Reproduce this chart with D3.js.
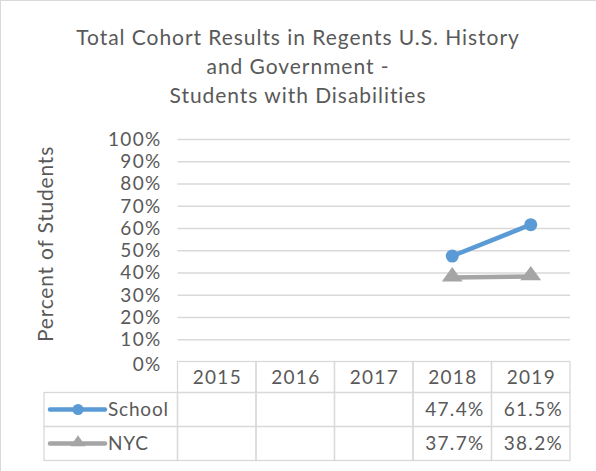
<!DOCTYPE html>
<html>
<head>
<meta charset="utf-8">
<script src="https://cdn.jsdelivr.net/npm/d3@7"></script>
<style>
  body { margin: 0; background: white; }
  text { font-family: "Century Gothic", "Lato", "Open Sans", sans-serif; fill: #595959; }
</style>
</head>
<body>
<div class="container"></div>
<script>
const years = ["2015", "2016", "2017", "2018", "2019"];
const schoolValues = [null, null, null, 47.4, 61.5];
const nycValues = [null, null, null, 37.7, 38.2];
const yTicks = [0, 10, 20, 30, 40, 50, 60, 70, 80, 90, 100];
const titleLines = ["Total Cohort Results in Regents U.S. History", "and Government -", "Students with Disabilities"];

const w = 596;
const h = 471;
const plotLeft = 177.5;
const plotRight = 570;
const plotTop = 139;
const plotBottom = 361.5;
const headerH = 31;
const rowH = 34;
const legendLeft = 44;
const numSize = "19px";
const numSpacing = "1.3px";

const series = [
    { name: "School", values: schoolValues, color: "#5B9BD5", marker: "circle" },
    { name: "NYC", values: nycValues, color: "#A5A5A5", marker: "triangle" }
];

const svg = d3.select(".container")
    .append("svg")
    .attr("width", w)
    .attr("height", h);

// chart border
svg.append("rect")
    .attr("x", 0.5)
    .attr("y", 0.5)
    .attr("width", w + 10)
    .attr("height", h + 10)
    .attr("fill", "none")
    .attr("stroke", "#D9D9D9");

svg.selectAll(".title")
    .data(titleLines)
    .enter()
    .append("text")
    .attr("class", "title")
    .attr("x", 298)
    .attr("y", (d, i) => 45 + i * 29)
    .attr("text-anchor", "middle")
    .style("font-size", "21px")
    .style("letter-spacing", "0.95px")
    .text(d => d);

const xScale = d3.scaleBand()
    .domain(years)
    .range([plotLeft, plotRight]);

const yScale = d3.scaleLinear()
    .domain([0, 100])
    .range([plotBottom, plotTop]);

// gridlines
svg.append("g")
    .attr("class", "grid")
    .attr("transform", "translate(" + plotLeft + ",0)")
    .call(d3.axisLeft(yScale).tickValues(yTicks.filter(d => d > 0)).tickSize(-(plotRight - plotLeft)).tickFormat(""))
    .call(g => g.select(".domain").remove())
    .call(g => g.selectAll("line").attr("stroke", "#D9D9D9").attr("stroke-width", 1.3));

// y labels
svg.append("g")
    .attr("transform", "translate(" + plotLeft + ",0)")
    .call(d3.axisLeft(yScale).tickValues(yTicks).tickSize(0).tickPadding(16).tickFormat(d => d + "%"))
    .call(g => g.select(".domain").remove())
    .call(g => g.selectAll("text").style("font-size", numSize).style("letter-spacing", numSpacing)
        .attr("fill", "#595959")
        .attr("dy", d => d === 0 ? "0.45em" : "0.34em"));

svg.append("text")
    .attr("transform", "translate(53,244) rotate(-90)")
    .attr("text-anchor", "middle")
    .style("font-size", "21px")
    .style("letter-spacing", "0.8px")
    .text("Percent of Students");

// lines
const line = d3.line()
    .defined(d => d.v !== null)
    .x(d => xScale(d.year) + xScale.bandwidth() / 2)
    .y(d => yScale(d.v));

const triangle = d3.symbol().type(d3.symbolTriangle).size(120);

series.forEach(s => {
    const pts = years.map((y, i) => ({ year: y, v: s.values[i] }));
    svg.append("path")
        .datum(pts)
        .attr("d", line)
        .attr("fill", "none")
        .attr("stroke", s.color)
        .attr("stroke-width", 4.5)
        .attr("stroke-linecap", "round");
    const valid = pts.filter(d => d.v !== null);
    if (s.marker === "circle") {
        svg.selectAll(null)
            .data(valid)
            .enter()
            .append("circle")
            .attr("cx", d => xScale(d.year) + xScale.bandwidth() / 2)
            .attr("cy", d => yScale(d.v))
            .attr("r", 6.5)
            .attr("fill", s.color);
    } else {
        svg.selectAll(null)
            .data(valid)
            .enter()
            .append("path")
            .attr("d", triangle)
            .attr("transform", d => "translate(" + (xScale(d.year) + xScale.bandwidth() / 2) + "," + (yScale(d.v) - 1) + ") scale(1.25,1)")
            .attr("fill", s.color);
    }
});

// data table
const table = svg.append("g");
const border = "#D9D9D9";

table.selectAll(".hcell")
    .data(years)
    .enter()
    .append("rect")
    .attr("x", d => xScale(d))
    .attr("y", plotBottom)
    .attr("width", xScale.bandwidth())
    .attr("height", headerH)
    .attr("fill", "none")
    .attr("stroke", border)
    .attr("stroke-width", 1.3);

table.selectAll(".htext")
    .data(years)
    .enter()
    .append("text")
    .attr("x", d => xScale(d) + xScale.bandwidth() / 2 + 0.6)
    .attr("y", plotBottom + headerH / 2)
    .attr("dy", "0.36em")
    .attr("text-anchor", "middle")
    .style("font-size", numSize)
    .style("letter-spacing", numSpacing)
    .text(d => d);

series.forEach((s, r) => {
    const top = plotBottom + headerH + r * rowH;
    table.append("rect")
        .attr("x", legendLeft)
        .attr("y", top)
        .attr("width", plotLeft - legendLeft)
        .attr("height", rowH)
        .attr("fill", "none")
        .attr("stroke", border)
        .attr("stroke-width", 1.3);
    table.selectAll(null)
        .data(years)
        .enter()
        .append("rect")
        .attr("x", d => xScale(d))
        .attr("y", top)
        .attr("width", xScale.bandwidth())
        .attr("height", rowH)
        .attr("fill", "none")
        .attr("stroke", border)
        .attr("stroke-width", 1.3);
    table.selectAll(null)
        .data(years.map((y, i) => ({ year: y, v: s.values[i] })).filter(d => d.v !== null))
        .enter()
        .append("text")
        .attr("x", d => xScale(d.year) + xScale.bandwidth() - 7)
        .attr("y", top + rowH / 2)
        .attr("dy", "0.36em")
        .attr("text-anchor", "end")
        .style("font-size", numSize)
        .style("letter-spacing", numSpacing)
        .text(d => d.v.toFixed(1) + "%");

    // legend key
    const cy = top + rowH / 2;
    table.append("line")
        .attr("x1", 50).attr("x2", 105)
        .attr("y1", cy).attr("y2", cy)
        .attr("stroke", s.color)
        .attr("stroke-width", 4.5)
        .attr("stroke-linecap", "round");
    if (s.marker === "circle") {
        table.append("circle").attr("cx", 78).attr("cy", cy).attr("r", 5.5).attr("fill", s.color);
    } else {
        table.append("path")
            .attr("d", d3.symbol().type(d3.symbolTriangle).size(70))
            .attr("transform", "translate(78," + (cy - 1) + ") scale(1.2,1)")
            .attr("fill", s.color);
    }
    table.append("text")
        .attr("x", 108)
        .attr("y", cy)
        .attr("dy", "0.36em")
        .style("font-size", "19px")
        .style("letter-spacing", "0.8px")
        .text(s.name);
});
</script>
</body>
</html>
